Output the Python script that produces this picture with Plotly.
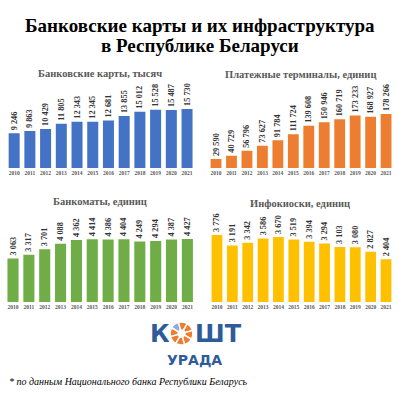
import plotly.graph_objects as go

years = ["2010", "2011", "2012", "2013", "2014", "2015", "2016", "2017", "2018", "2019", "2020", "2021"]
cards = [9246, 9863, 10429, 11805, 12343, 12345, 12681, 13855, 15012, 15528, 15487, 15730]
terminals = [29590, 40729, 56796, 73627, 91784, 111724, 139608, 150946, 160719, 173233, 168927, 178266]
atms = [3063, 3317, 3701, 4088, 4362, 4414, 4386, 4404, 4249, 4294, 4387, 4427]
kiosks = [3776, 3191, 3342, 3586, 3670, 3519, 3394, 3294, 3103, 3080, 2827, 2404]

titles = ["Банковские карты, тысяч", "Платежные терминалы, единиц",
          "Банкоматы, единиц", "Инфокиоски, единиц"]
colors = ["#4472C4", "#ED7D31", "#70AD47", "#FFC000"]
logo_slices = [1, 1, 1, 1, 1, 1, 1, 1]

W, H = 399, 396
SERIF = "Liberation Serif, Times New Roman, serif"


def px_x(v):
    return v / W


def px_y(v):
    return 1 - v / H


def fmt(v):
    return f"{v:,}".replace(",", " ")


# panel geometry in pixels: (x0, x1, ybase, ytop, ymax)
panels = [
    (6.3, 194.9, 168, 88, 21330),
    (208.3, 393.8, 168, 88, 264100),
    (5.1, 195.3, 302, 222, 5622),
    (209.3, 393.7, 302, 222, 4509),
]
series = [cards, terminals, atms, kiosks]
title_pos = [(100, 73), (300, 74), (100, 202), (300, 203)]

fig = go.Figure()
layout = dict(width=W, height=H, margin=dict(l=0, r=0, t=0, b=0),
              paper_bgcolor="white", plot_bgcolor="white", showlegend=False,
              bargap=0.3)
annotations = []

for i, (vals, col, (x0, x1, yb, yt, ymax)) in enumerate(zip(series, colors, panels)):
    ax = "" if i == 0 else str(i + 1)
    fig.add_trace(go.Bar(
        x=years, y=vals, marker=dict(color=col, line=dict(width=0)),
        text=[fmt(v) for v in vals], textposition="outside", textangle=-90,
        textfont=dict(family=SERIF, size=8.3, color="#333333", weight="bold"),
        cliponaxis=False, constraintext="none",
        xaxis="x" + ax, yaxis="y" + ax, hoverinfo="skip",
    ))
    layout["xaxis" + ax] = dict(
        domain=[px_x(x0), px_x(x1)], anchor="y" + ax, type="category",
        showgrid=False, zeroline=False, showline=False, ticks="",
        tickfont=dict(family=SERIF, size=5.5, color="#595959", weight="bold"),
        fixedrange=True,
    )
    layout["yaxis" + ax] = dict(
        domain=[px_y(yb), px_y(yt)], anchor="x" + ax, range=[0, ymax],
        showgrid=False, zeroline=False, showline=False, showticklabels=False,
        fixedrange=True,
    )
    tx, ty = title_pos[i]
    annotations.append(dict(
        x=px_x(tx), y=px_y(ty), xref="paper", yref="paper", showarrow=False,
        text=titles[i], xanchor="center", yanchor="middle",
        font=dict(family=SERIF, size=10.5, color="#595959", weight="bold"),
    ))

# main title
annotations.append(dict(x=0.5, y=px_y(25), xref="paper", yref="paper", showarrow=False,
                        text="Банковские карты и их инфраструктура", xanchor="center", yanchor="middle",
                        font=dict(family=SERIF, size=19, color="#000000", weight="bold")))
annotations.append(dict(x=0.5, y=px_y(45), xref="paper", yref="paper", showarrow=False,
                        text="в Республике Беларуси", xanchor="center", yanchor="middle",
                        font=dict(family=SERIF, size=19, color="#000000", weight="bold")))

# logo
LOGO_BLUE = "#2E5C9A"
annotations.append(dict(x=px_x(160), y=px_y(334), xref="paper", yref="paper", showarrow=False,
                        text="К", xanchor="center", yanchor="middle",
                        font=dict(family="DejaVu Sans", size=24, color=LOGO_BLUE, weight="bold")))
annotations.append(dict(x=px_x(218), y=px_y(334), xref="paper", yref="paper", showarrow=False,
                        text="ШТ", xanchor="center", yanchor="middle",
                        font=dict(family="DejaVu Sans", size=24, color=LOGO_BLUE, weight="bold")))
annotations.append(dict(x=px_x(194), y=px_y(360), xref="paper", yref="paper", showarrow=False,
                        text="УРАДА", xanchor="center", yanchor="middle",
                        font=dict(family="DejaVu Sans", size=14, color=LOGO_BLUE, weight="bold")))

fig.add_trace(go.Pie(
    values=logo_slices, hole=0.3, sort=False, direction="clockwise", rotation=300,
    marker=dict(colors=["#8FAADC"] + ["#ED7D31"] * 7, line=dict(color="white", width=1.5)),
    textinfo="none", hoverinfo="skip", showlegend=False,
    domain=dict(x=[px_x(170), px_x(193)], y=[px_y(345), px_y(322)]),
))

# footnote
annotations.append(dict(x=px_x(7), y=px_y(381), xref="paper", yref="paper", showarrow=False,
                        text="* по данным Национального банка Республики Беларусь",
                        xanchor="left", yanchor="middle",
                        font=dict(family=SERIF, size=10, color="#000000", style="italic")))

layout["annotations"] = annotations
fig.update_layout(**layout)
fig.write_html(
    "out.html",
    config={"displayModeBar": False},
    post_script="document.body.style.margin='0';document.body.style.overflow='hidden';",
)
